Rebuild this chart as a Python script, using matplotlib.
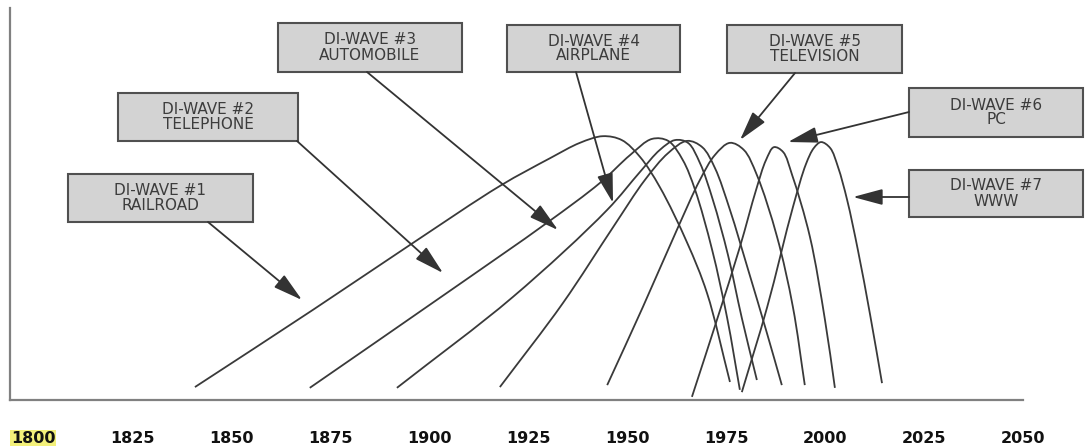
import matplotlib
matplotlib.use('Agg')
import numpy as np
import matplotlib.pyplot as plt
from matplotlib.patches import Rectangle, FancyArrowPatch, PathPatch
from matplotlib.path import Path

# tick years along the time axis
tick_years = [1800, 1825, 1850, 1875, 1900, 1925, 1950, 1975, 2000, 2025, 2050]

# wave labels
wave_titles = ['DI-WAVE #1', 'DI-WAVE #2', 'DI-WAVE #3', 'DI-WAVE #4',
               'DI-WAVE #5', 'DI-WAVE #6', 'DI-WAVE #7']
wave_names = ['RAILROAD', 'TELEPHONE', 'AUTOMOBILE', 'AIRPLANE',
              'TELEVISION', 'PC', 'WWW']

# curves: year, relative height (0-100)
railroad_x = [1840.9, 1870.7, 1896.0, 1917.9, 1930.6, 1938.1, 1943.9, 1948.7, 1953.3, 1958.3, 1965.2, 1970.2, 1976.0]
railroad_y = [3.3, 23.0, 40.1, 54.6, 61.7, 65.6, 67.3, 66.3, 62.0, 54.3, 40.1, 27.3, 4.6]

telephone_x = [1869.9, 1904.5, 1929.8, 1943.2, 1950.8, 1956.3, 1960.4, 1964.1, 1967.2, 1971.5, 1975.3, 1978.5]
telephone_y = [3.1, 27.3, 45.2, 55.4, 62.5, 66.6, 66.1, 61.2, 53.6, 38.3, 20.9, 2.6]

automobile_x = [1891.9, 1921.2, 1945.0, 1953.3, 1958.3, 1962.1, 1965.4, 1968.4, 1971.7, 1975.5, 1979.0, 1982.8]
automobile_y = [3.1, 26.3, 48.5, 58.2, 63.8, 66.3, 65.6, 60.5, 51.0, 37.0, 20.9, 5.1]

airplane_x = [1917.9, 1933.8, 1946.5, 1954.5, 1960.4, 1965.2, 1969.0, 1972.2, 1976.0, 1980.6, 1985.1, 1989.1]
airplane_y = [3.3, 24.7, 44.1, 56.1, 63.0, 66.1, 64.5, 59.2, 48.5, 33.2, 17.9, 3.8]

television_x = [1945.0, 1954.0, 1962.6, 1968.4, 1972.2, 1976.0, 1979.5, 1982.8, 1987.9, 1991.9, 1994.9]
television_y = [3.8, 23.7, 43.4, 56.1, 62.5, 65.6, 63.8, 57.4, 41.6, 23.7, 3.8]

pc_x = [1966.4, 1972.7, 1978.5, 1982.6, 1985.1, 1987.1, 1989.4, 1991.7, 1996.2, 2000.0, 2002.5]
pc_y = [0.8, 20.4, 39.0, 53.6, 61.2, 64.5, 63.3, 57.4, 41.6, 20.4, 3.1]

www_x = [1979.0, 1985.4, 1991.9, 1995.2, 1997.2, 1999.0, 2001.3, 2003.3, 2005.6, 2008.3, 2011.4, 2014.4]
www_y = [2.0, 23.7, 49.2, 60.2, 64.3, 65.8, 64.3, 59.4, 51.0, 38.3, 21.7, 4.3]

curves = [(railroad_x, railroad_y), (telephone_x, telephone_y),
          (automobile_x, automobile_y), (airplane_x, airplane_y),
          (television_x, television_y), (pc_x, pc_y), (www_x, www_y)]

W, H = 1085, 447
fig = plt.figure(figsize=(W / 100, H / 100), dpi=100)
fig.patch.set_facecolor('white')


def fpx(x, y):
    # pixel position (top-left origin) -> figure fraction
    return x / W, 1 - y / H


def smooth_path(xs, ys, alpha=0.5):
    # bezier path through the read points (centripetal catmull-rom handles)
    P = np.column_stack([xs, ys]).astype(float)
    n = len(P)
    verts = [P[0]]
    codes = [Path.MOVETO]
    for i in range(n - 1):
        p1, p2 = P[i], P[i + 1]
        d2 = np.linalg.norm(p2 - p1) ** alpha
        if i > 0:
            p0 = P[i - 1]
            d1 = np.linalg.norm(p1 - p0) ** alpha
            b1 = (d1**2 * p2 - d2**2 * p0 + (2 * d1**2 + 3 * d1 * d2 + d2**2) * p1) / (3 * d1 * (d1 + d2))
        else:
            b1 = p1 + (p2 - p1) / 3
        if i + 2 < n:
            p3 = P[i + 2]
            d3 = np.linalg.norm(p3 - p2) ** alpha
            b2 = (d3**2 * p1 - d2**2 * p3 + (2 * d3**2 + 3 * d3 * d2 + d2**2) * p2) / (3 * d3 * (d3 + d2))
        else:
            b2 = p2 - (p2 - p1) / 3
        verts += [b1, b2, p2]
        codes += [Path.CURVE4] * 3
    return Path(verts, codes)


ax = fig.add_axes([10 / W, (H - 400) / H, (1023 - 10) / W, (400 - 8) / H])
for xs, ys in curves:
    ax.add_patch(PathPatch(smooth_path(xs, ys), facecolor='none',
                           edgecolor='#3a3a3a', lw=1.3))

ax.set_xlim(1794.2, 2050)
ax.set_ylim(0, 100)
for s in ['top', 'right']:
    ax.spines[s].set_visible(False)
for s in ['left', 'bottom']:
    ax.spines[s].set_color('#808080')
    ax.spines[s].set_linewidth(1.6)
ax.set_yticks([])
ax.set_xticks(tick_years)
ax.set_xticklabels([str(t) for t in tick_years], fontsize=11.5, fontweight='bold',
                   family='DejaVu Sans', color='#111111')
ax.tick_params(axis='x', length=0, pad=22)
ax.get_xticklabels()[0].set_bbox(dict(facecolor='#f3f07a', edgecolor='none', pad=0.5))

# label boxes: left, top, right, bottom in pixels
boxes = [(68, 174, 253, 222), (118, 93, 298, 141), (278, 23, 462, 72),
         (507, 25, 680, 72), (727, 25, 902, 73), (909, 88, 1083, 137),
         (909, 170, 1083, 217)]
# arrows: from (box side) to tip, pixels
arrows = [((208, 222), (302, 300)), ((297, 141), (443, 273)),
          ((367, 72), (558, 230)), ((576, 72), (613, 203)),
          ((795, 73), (740, 140)), ((909, 112), (788, 142)),
          ((909, 197), (853, 197))]

for (l, t, r, b), title, name in zip(boxes, wave_titles, wave_names):
    x0, y0 = fpx(l, b)
    x1, y1 = fpx(r, t)
    fig.add_artist(Rectangle((x0, y0), x1 - x0, y1 - y0, transform=fig.transFigure,
                             facecolor='#d3d3d3', edgecolor='#505050', lw=1.5))
    fig.text((x0 + x1) / 2, (y0 + y1) / 2, title + '\n' + name, ha='center', va='center',
             fontsize=11, color='#3c3c3c', family='DejaVu Sans', linespacing=1.0)

for (p0, p1) in arrows:
    a = FancyArrowPatch(fpx(*p0), fpx(*p1), transform=fig.transFigure,
                        arrowstyle='-|>,head_length=1.3,head_width=0.35',
                        mutation_scale=14, color='#333333', lw=1.3,
                        shrinkA=0, shrinkB=0)
    fig.add_artist(a)

fig.savefig('out.png', dpi=100, facecolor='white')
